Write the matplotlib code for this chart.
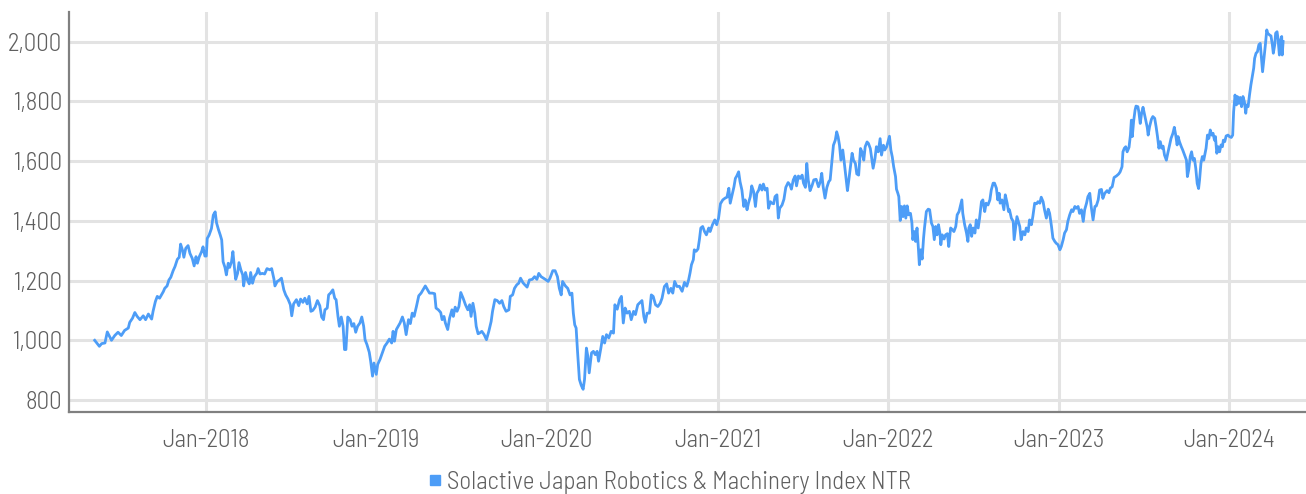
import matplotlib
matplotlib.use("Agg")
import matplotlib.pyplot as plt
import matplotlib.dates as mdates
from matplotlib.lines import Line2D
from matplotlib.ticker import FuncFormatter
import pandas as pd

# ---------------- data ----------------
series_name = "Solactive Japan Robotics & Machinery Index NTR"

dates_2017 = ["2017-05-08", "2017-05-18", "2017-05-23", "2017-05-30", "2017-06-04", "2017-06-13", "2017-06-20",
              "2017-06-27", "2017-07-04", "2017-07-11", "2017-07-19", "2017-07-22", "2017-07-28", "2017-08-02",
              "2017-08-07", "2017-08-13", "2017-08-20", "2017-08-25", "2017-08-31", "2017-09-07", "2017-09-10",
              "2017-09-15", "2017-09-19", "2017-09-24", "2017-10-02", "2017-10-05", "2017-10-10", "2017-10-14",
              "2017-10-18", "2017-10-23", "2017-10-27", "2017-11-01", "2017-11-05", "2017-11-08", "2017-11-12",
              "2017-11-15", "2017-11-19", "2017-11-24", "2017-11-28", "2017-12-03", "2017-12-07", "2017-12-11",
              "2017-12-14", "2017-12-18", "2017-12-23", "2017-12-26", "2017-12-30"]
values_2017 = [1000, 980, 989, 991, 1028, 1000, 1016,
               1027, 1016, 1033, 1041, 1060, 1074, 1093,
               1080, 1069, 1082, 1069, 1088, 1071, 1097,
               1130, 1147, 1141, 1163, 1174, 1182, 1202,
               1211, 1233, 1247, 1271, 1278, 1322, 1302,
               1278, 1308, 1317, 1291, 1274, 1249, 1280,
               1258, 1280, 1297, 1313, 1282]

dates_2018 = ["2018-01-02", "2018-01-04", "2018-01-08", "2018-01-13", "2018-01-17", "2018-01-21", "2018-01-24",
              "2018-01-28", "2018-02-01", "2018-02-04", "2018-02-07", "2018-02-11", "2018-02-14", "2018-02-18",
              "2018-02-21", "2018-02-25", "2018-02-28", "2018-03-03", "2018-03-06", "2018-03-10", "2018-03-13",
              "2018-03-17", "2018-03-21", "2018-03-23", "2018-03-27", "2018-03-31", "2018-04-04", "2018-04-07",
              "2018-04-11", "2018-04-15", "2018-04-20", "2018-04-23", "2018-04-27", "2018-05-02", "2018-05-07",
              "2018-05-12", "2018-05-18", "2018-05-22", "2018-05-27", "2018-05-29", "2018-06-03", "2018-06-08",
              "2018-06-12", "2018-06-17", "2018-06-21", "2018-06-26", "2018-07-01", "2018-07-04", "2018-07-08",
              "2018-07-14", "2018-07-19", "2018-07-23", "2018-07-28", "2018-08-01", "2018-08-06", "2018-08-10",
              "2018-08-14", "2018-08-18", "2018-08-23", "2018-08-28", "2018-09-02", "2018-09-06", "2018-09-10",
              "2018-09-13", "2018-09-18", "2018-09-21", "2018-09-25", "2018-09-30", "2018-10-04", "2018-10-07",
              "2018-10-11", "2018-10-14", "2018-10-18", "2018-10-22", "2018-10-25", "2018-10-28", "2018-11-01",
              "2018-11-06", "2018-11-10", "2018-11-14", "2018-11-18", "2018-11-22", "2018-11-27", "2018-12-01",
              "2018-12-05", "2018-12-08", "2018-12-12", "2018-12-17", "2018-12-20", "2018-12-24", "2018-12-27"]
values_2018 = [1282, 1341, 1352, 1374, 1419, 1430, 1393,
               1371, 1352, 1336, 1263, 1244, 1219, 1258,
               1244, 1263, 1297, 1247, 1204, 1224, 1260,
               1236, 1219, 1182, 1227, 1202, 1189, 1227,
               1191, 1213, 1224, 1240, 1222, 1224, 1222,
               1240, 1236, 1240, 1204, 1182, 1197, 1202,
               1208, 1169, 1152, 1138, 1119, 1082, 1122,
               1136, 1116, 1138, 1127, 1141, 1122, 1147,
               1097, 1100, 1111, 1133, 1116, 1078, 1069,
               1102, 1108, 1152, 1158, 1169, 1141, 1136,
               1080, 1047, 1078, 1047, 969, 969, 1078,
               1069, 1047, 1056, 1027, 1047, 1058, 1078,
               1047, 1002, 986, 960, 930, 880, 924]

dates_2019 = ["2019-01-01", "2019-01-04", "2019-01-09", "2019-01-14", "2019-01-19", "2019-01-24", "2019-01-29",
              "2019-02-03", "2019-02-06", "2019-02-09", "2019-02-13", "2019-02-17", "2019-02-21", "2019-02-26",
              "2019-03-02", "2019-03-06", "2019-03-11", "2019-03-15", "2019-03-19", "2019-03-23", "2019-03-28",
              "2019-04-02", "2019-04-07", "2019-04-11", "2019-04-16", "2019-04-20", "2019-04-25", "2019-05-01",
              "2019-05-06", "2019-05-09", "2019-05-14", "2019-05-19", "2019-05-22", "2019-05-26", "2019-05-29",
              "2019-06-03", "2019-06-07", "2019-06-12", "2019-06-15", "2019-06-19", "2019-06-23", "2019-06-27",
              "2019-07-01", "2019-07-06", "2019-07-11", "2019-07-16", "2019-07-20", "2019-07-23", "2019-07-27",
              "2019-07-31", "2019-08-03", "2019-08-07", "2019-08-10", "2019-08-15", "2019-08-20", "2019-08-25",
              "2019-08-30", "2019-09-04", "2019-09-07", "2019-09-12", "2019-09-17", "2019-09-22", "2019-09-27",
              "2019-10-01", "2019-10-06", "2019-10-12", "2019-10-15", "2019-10-20", "2019-10-24", "2019-10-29",
              "2019-11-02", "2019-11-06", "2019-11-11", "2019-11-15", "2019-11-20", "2019-11-25", "2019-12-01",
              "2019-12-06", "2019-12-11", "2019-12-15", "2019-12-20", "2019-12-25", "2019-12-29"]
values_2019 = [886, 919, 936, 958, 980, 991, 1004,
               991, 1030, 997, 1036, 1047, 1058, 1078,
               1058, 1019, 1069, 1056, 1091, 1080, 1113,
               1149, 1158, 1169, 1182, 1171, 1158, 1158,
               1156, 1108, 1102, 1093, 1069, 1080, 1058,
               1036, 1074, 1102, 1080, 1111, 1097, 1113,
               1160, 1141, 1119, 1102, 1119, 1080, 1124,
               1091, 1047, 1022, 1024, 1030, 1019, 1002,
               1030, 1063, 1097, 1136, 1133, 1124, 1133,
               1113, 1097, 1102, 1147, 1152, 1174, 1186,
               1191, 1208, 1193, 1186, 1178, 1202, 1204,
               1213, 1204, 1224, 1213, 1208, 1204]

dates_2020 = ["2020-01-04", "2020-01-08", "2020-01-14", "2020-01-19", "2020-01-24", "2020-01-28", "2020-02-01",
              "2020-02-04", "2020-02-10", "2020-02-15", "2020-02-20", "2020-02-24", "2020-02-27", "2020-03-01",
              "2020-03-04", "2020-03-07", "2020-03-11", "2020-03-15", "2020-03-19", "2020-03-22", "2020-03-26",
              "2020-03-29", "2020-04-01", "2020-04-06", "2020-04-10", "2020-04-14", "2020-04-18", "2020-04-21",
              "2020-04-26", "2020-04-30", "2020-05-04", "2020-05-08", "2020-05-13", "2020-05-18", "2020-05-23",
              "2020-05-26", "2020-05-31", "2020-06-05", "2020-06-09", "2020-06-13", "2020-06-17", "2020-06-21",
              "2020-06-26", "2020-06-30", "2020-07-05", "2020-07-09", "2020-07-14", "2020-07-19", "2020-07-23",
              "2020-07-27", "2020-07-30", "2020-08-03", "2020-08-08", "2020-08-12", "2020-08-16", "2020-08-21",
              "2020-08-26", "2020-08-31", "2020-09-04", "2020-09-09", "2020-09-14", "2020-09-18", "2020-09-23",
              "2020-09-27", "2020-10-01", "2020-10-06", "2020-10-11", "2020-10-17", "2020-10-22", "2020-10-27",
              "2020-10-31", "2020-11-03", "2020-11-06", "2020-11-10", "2020-11-12", "2020-11-16", "2020-11-20",
              "2020-11-23", "2020-11-26", "2020-11-30", "2020-12-04", "2020-12-08", "2020-12-13", "2020-12-16",
              "2020-12-21", "2020-12-26", "2020-12-30"]
values_2020 = [1197, 1208, 1233, 1233, 1213, 1174, 1152,
               1197, 1182, 1174, 1152, 1158, 1091, 1052,
               1041, 963, 869, 849, 836, 869, 974,
               947, 891, 958, 963, 952, 963, 930,
               974, 1013, 991, 1019, 1008, 1030, 1024,
               1119, 1104, 1136, 1147, 1058, 1108, 1091,
               1097, 1069, 1097, 1086, 1119, 1127, 1133,
               1080, 1060, 1091, 1091, 1152, 1147, 1119,
               1113, 1124, 1141, 1180, 1189, 1158, 1174,
               1158, 1197, 1180, 1181, 1164, 1194, 1181,
               1203, 1226, 1253, 1270, 1303, 1298, 1306,
               1337, 1376, 1381, 1364, 1353, 1376, 1364,
               1387, 1403, 1387]

dates_2021 = ["2021-01-03", "2021-01-07", "2021-01-12", "2021-01-17", "2021-01-21", "2021-01-25", "2021-01-28",
              "2021-02-01", "2021-02-05", "2021-02-08", "2021-02-11", "2021-02-15", "2021-02-18", "2021-02-22",
              "2021-02-26", "2021-03-01", "2021-03-05", "2021-03-08", "2021-03-12", "2021-03-15", "2021-03-19",
              "2021-03-23", "2021-03-26", "2021-03-30", "2021-04-02", "2021-04-06", "2021-04-09", "2021-04-13",
              "2021-04-17", "2021-04-20", "2021-04-24", "2021-04-27", "2021-05-01", "2021-05-04", "2021-05-08",
              "2021-05-11", "2021-05-14", "2021-05-19", "2021-05-23", "2021-05-27", "2021-06-01", "2021-06-05",
              "2021-06-08", "2021-06-12", "2021-06-16", "2021-06-19", "2021-06-23", "2021-06-27", "2021-07-01",
              "2021-07-04", "2021-07-08", "2021-07-11", "2021-07-14", "2021-07-18", "2021-07-22", "2021-07-26",
              "2021-07-31", "2021-08-05", "2021-08-09", "2021-08-12", "2021-08-15", "2021-08-19", "2021-08-23",
              "2021-08-27", "2021-08-30", "2021-09-02", "2021-09-06", "2021-09-10", "2021-09-13", "2021-09-16",
              "2021-09-19", "2021-09-22", "2021-09-26", "2021-09-29", "2021-10-03", "2021-10-06", "2021-10-09",
              "2021-10-12", "2021-10-16", "2021-10-19", "2021-10-23", "2021-10-26", "2021-10-30", "2021-11-03",
              "2021-11-06", "2021-11-10", "2021-11-13", "2021-11-17", "2021-11-20", "2021-11-24", "2021-11-27",
              "2021-11-30", "2021-12-04", "2021-12-07", "2021-12-11", "2021-12-15", "2021-12-18", "2021-12-22",
              "2021-12-25", "2021-12-29"]
values_2021 = [1409, 1457, 1470, 1476, 1479, 1509, 1459,
               1487, 1514, 1542, 1550, 1564, 1531, 1503,
               1448, 1470, 1437, 1459, 1481, 1517, 1498,
               1448, 1492, 1503, 1520, 1503, 1523, 1503,
               1509, 1442, 1464, 1459, 1457, 1481, 1487,
               1409, 1442, 1453, 1472, 1512, 1528, 1520,
               1506, 1537, 1550, 1517, 1550, 1542, 1553,
               1526, 1512, 1592, 1537, 1501, 1517, 1537,
               1539, 1514, 1531, 1559, 1514, 1476, 1512,
               1531, 1537, 1587, 1653, 1670, 1698, 1681,
               1653, 1603, 1637, 1598, 1542, 1501, 1537,
               1576, 1626, 1603, 1592, 1557, 1553, 1642,
               1631, 1603, 1648, 1664, 1659, 1642, 1609,
               1576, 1609, 1648, 1631, 1675, 1620, 1653,
               1637, 1648]

dates_2022 = ["2022-01-04", "2022-01-07", "2022-01-10", "2022-01-13", "2022-01-17", "2022-01-19", "2022-01-22",
              "2022-01-24", "2022-01-27", "2022-01-30", "2022-02-02", "2022-02-05", "2022-02-08", "2022-02-11",
              "2022-02-14", "2022-02-18", "2022-02-21", "2022-02-23", "2022-02-26", "2022-03-01", "2022-03-04",
              "2022-03-07", "2022-03-09", "2022-03-12", "2022-03-15", "2022-03-18", "2022-03-20", "2022-03-24",
              "2022-03-28", "2022-03-31", "2022-04-04", "2022-04-07", "2022-04-10", "2022-04-13", "2022-04-16",
              "2022-04-19", "2022-04-22", "2022-04-24", "2022-04-27", "2022-05-01", "2022-05-04", "2022-05-08",
              "2022-05-11", "2022-05-15", "2022-05-19", "2022-05-22", "2022-05-26", "2022-05-29", "2022-06-02",
              "2022-06-05", "2022-06-08", "2022-06-10", "2022-06-14", "2022-06-18", "2022-06-21", "2022-06-23",
              "2022-06-26", "2022-06-29", "2022-07-02", "2022-07-06", "2022-07-09", "2022-07-13", "2022-07-16",
              "2022-07-20", "2022-07-23", "2022-07-27", "2022-07-30", "2022-08-03", "2022-08-07", "2022-08-10",
              "2022-08-14", "2022-08-17", "2022-08-21", "2022-08-24", "2022-08-27", "2022-08-29", "2022-09-02",
              "2022-09-06", "2022-09-09", "2022-09-13", "2022-09-16", "2022-09-18", "2022-09-22", "2022-09-26",
              "2022-09-28", "2022-10-01", "2022-10-04", "2022-10-07", "2022-10-10", "2022-10-13", "2022-10-17",
              "2022-10-21", "2022-10-24", "2022-10-28", "2022-10-31", "2022-11-04", "2022-11-07", "2022-11-11",
              "2022-11-15", "2022-11-18", "2022-11-22", "2022-11-25", "2022-11-29", "2022-12-02", "2022-12-06",
              "2022-12-10", "2022-12-13", "2022-12-17", "2022-12-20", "2022-12-24", "2022-12-27", "2022-12-31"]
values_2022 = [1683, 1637, 1614, 1581, 1548, 1506, 1492,
               1481, 1401, 1448, 1414, 1450, 1409, 1450,
               1420, 1425, 1394, 1337, 1364, 1331, 1376,
               1306, 1253, 1303, 1272, 1342, 1376, 1431,
               1439, 1437, 1392, 1381, 1337, 1381, 1353,
               1387, 1359, 1320, 1353, 1339, 1353, 1357,
               1314, 1376, 1370, 1364, 1381, 1420, 1431,
               1450, 1470, 1425, 1387, 1359, 1331, 1376,
               1387, 1348, 1376, 1359, 1403, 1376, 1409,
               1464, 1470, 1431, 1459, 1453, 1470, 1503,
               1526, 1526, 1509, 1470, 1492, 1459, 1470,
               1437, 1487, 1459, 1431, 1437, 1409, 1398,
               1337, 1376, 1414, 1398, 1381, 1337, 1364,
               1353, 1376, 1364, 1403, 1387, 1414, 1459,
               1457, 1464, 1459, 1479, 1464, 1437, 1409,
               1439, 1425, 1381, 1342, 1331, 1325, 1320]

dates_2023 = ["2023-01-04", "2023-01-07", "2023-01-11", "2023-01-14", "2023-01-18", "2023-01-21", "2023-01-25",
              "2023-01-29", "2023-02-01", "2023-02-05", "2023-02-08", "2023-02-12", "2023-02-15", "2023-02-19",
              "2023-02-23", "2023-02-26", "2023-03-02", "2023-03-05", "2023-03-09", "2023-03-12", "2023-03-16",
              "2023-03-20", "2023-03-23", "2023-03-27", "2023-03-30", "2023-04-03", "2023-04-06", "2023-04-10",
              "2023-04-15", "2023-04-19", "2023-04-22", "2023-04-26", "2023-04-30", "2023-05-05", "2023-05-10",
              "2023-05-13", "2023-05-17", "2023-05-19", "2023-05-22", "2023-05-25", "2023-05-28", "2023-06-01",
              "2023-06-04", "2023-06-06", "2023-06-08", "2023-06-11", "2023-06-14", "2023-06-16", "2023-06-20",
              "2023-06-22", "2023-06-25", "2023-06-28", "2023-07-01", "2023-07-04", "2023-07-07", "2023-07-10",
              "2023-07-12", "2023-07-15", "2023-07-19", "2023-07-22", "2023-07-26", "2023-07-29", "2023-08-01",
              "2023-08-04", "2023-08-07", "2023-08-10", "2023-08-13", "2023-08-16", "2023-08-20", "2023-08-23",
              "2023-08-27", "2023-08-30", "2023-09-03", "2023-09-06", "2023-09-09", "2023-09-12", "2023-09-14",
              "2023-09-17", "2023-09-21", "2023-09-24", "2023-09-28", "2023-10-02", "2023-10-04", "2023-10-07",
              "2023-10-10", "2023-10-13", "2023-10-16", "2023-10-19", "2023-10-22", "2023-10-25", "2023-10-28",
              "2023-10-30", "2023-11-02", "2023-11-05", "2023-11-08", "2023-11-11", "2023-11-13", "2023-11-16",
              "2023-11-19", "2023-11-22", "2023-11-25", "2023-11-28", "2023-12-01", "2023-12-03", "2023-12-06",
              "2023-12-09", "2023-12-12", "2023-12-15", "2023-12-18", "2023-12-20", "2023-12-23", "2023-12-26",
              "2023-12-30"]
values_2023 = [1303, 1314, 1337, 1359, 1370, 1398, 1420,
               1437, 1431, 1448, 1442, 1448, 1425, 1437,
               1398, 1437, 1459, 1481, 1492, 1448, 1403,
               1448, 1450, 1470, 1503, 1505, 1475, 1492,
               1501, 1494, 1509, 1514, 1545, 1550, 1557,
               1564, 1581, 1631, 1643, 1648, 1631, 1646,
               1687, 1737, 1682, 1735, 1771, 1784, 1782,
               1765, 1726, 1760, 1780, 1758, 1737, 1713,
               1687, 1715, 1740, 1749, 1743, 1715, 1682,
               1643, 1665, 1643, 1650, 1620, 1603, 1626,
               1654, 1676, 1693, 1713, 1687, 1654, 1682,
               1665, 1648, 1637, 1620, 1603, 1548, 1572,
               1615, 1631, 1603, 1609, 1575, 1525, 1508,
               1536, 1592, 1615, 1603, 1626, 1643, 1687,
               1676, 1704, 1687, 1693, 1670, 1682, 1626,
               1648, 1631, 1654, 1648, 1670, 1665, 1684,
               1687]

dates_2024 = ["2024-01-02", "2024-01-06", "2024-01-09", "2024-01-11", "2024-01-14", "2024-01-17", "2024-01-19",
              "2024-01-22", "2024-01-25", "2024-01-28", "2024-01-31", "2024-02-03", "2024-02-06", "2024-02-08",
              "2024-02-11", "2024-02-14", "2024-02-17", "2024-02-20", "2024-02-23", "2024-02-25", "2024-02-28",
              "2024-03-02", "2024-03-05", "2024-03-08", "2024-03-11", "2024-03-13", "2024-03-16", "2024-03-19",
              "2024-03-22", "2024-03-24", "2024-03-28", "2024-03-31", "2024-04-03", "2024-04-05", "2024-04-08",
              "2024-04-10", "2024-04-13", "2024-04-15", "2024-04-18", "2024-04-21", "2024-04-23", "2024-04-24",
              "2024-04-26"]
values_2024 = [1682, 1679, 1687, 1765, 1821, 1788, 1816,
               1793, 1813, 1782, 1816, 1799, 1760, 1788,
               1782, 1821, 1855, 1883, 1911, 1944, 1961,
               1966, 1989, 1994, 1939, 1899, 1944, 1989,
               2039, 2028, 2022, 2019, 1989, 1961, 1989,
               2028, 2033, 2011, 1955, 2006, 2017, 1955,
               2000]

year_ticks = ["2018-01-01", "2019-01-01", "2020-01-01", "2021-01-01",
              "2022-01-01", "2023-01-01", "2024-01-01"]
y_ticks = [800, 1000, 1200, 1400, 1600, 1800, 2000]

# ---------------- assemble ----------------
all_dates = (dates_2017 + dates_2018 + dates_2019 + dates_2020 +
             dates_2021 + dates_2022 + dates_2023 + dates_2024)
all_values = (values_2017 + values_2018 + values_2019 + values_2020 +
              values_2021 + values_2022 + values_2023 + values_2024)
x = pd.to_datetime(all_dates)

# ---------------- style ----------------
plt.rcParams["font.family"] = ["Barlow Semi Condensed", "Roboto Condensed", "DejaVu Sans"]
plt.rcParams["font.weight"] = 300
TEXT_COLOR = "#5f5f5f"
LINE_COLOR = "#4d9df7"
GRID_COLOR = "#e3e3e3"
SPINE_COLOR = "#808080"
FS = 18

fig = plt.figure(figsize=(13.06, 4.94), dpi=100)
ax = fig.add_axes([69 / 1306, 1 - 412 / 494, 1 - 69 / 1306, (412 - 11.7) / 494])

ax.plot(x, all_values, color=LINE_COLOR, lw=2.0, solid_joinstyle="round", zorder=3)

ax.set_xlim(pd.Timestamp("2017-03-14"), pd.Timestamp("2024-06-14"))
ax.set_ylim(760, 2100)

ax.set_yticks(y_ticks)
ax.yaxis.set_major_formatter(FuncFormatter(lambda v, p: f"{int(v):,}"))
ax.set_xticks(pd.to_datetime(year_ticks))
ax.xaxis.set_major_formatter(mdates.DateFormatter("%b-%Y"))

ax.grid(True, color=GRID_COLOR, lw=2.2, zorder=0)
ax.set_axisbelow(True)

for s in ["top", "right"]:
    ax.spines[s].set_visible(False)
for s in ["left", "bottom"]:
    ax.spines[s].set_color(SPINE_COLOR)
    ax.spines[s].set_linewidth(1.6)

ax.tick_params(axis="both", length=0, labelsize=FS, labelcolor=TEXT_COLOR)
ax.tick_params(axis="y", pad=5)
ax.tick_params(axis="x", pad=12)

handle = Line2D([], [], marker="s", linestyle="none", color=LINE_COLOR, markersize=7.5)
fig.legend([handle], [series_name], loc="center", bbox_to_anchor=(668 / 1306, 1 - 482 / 494),
           frameon=False, fontsize=FS, labelcolor=TEXT_COLOR, handletextpad=0.1,
           handlelength=0.8, borderaxespad=0)

fig.savefig("out.png", dpi=100)
